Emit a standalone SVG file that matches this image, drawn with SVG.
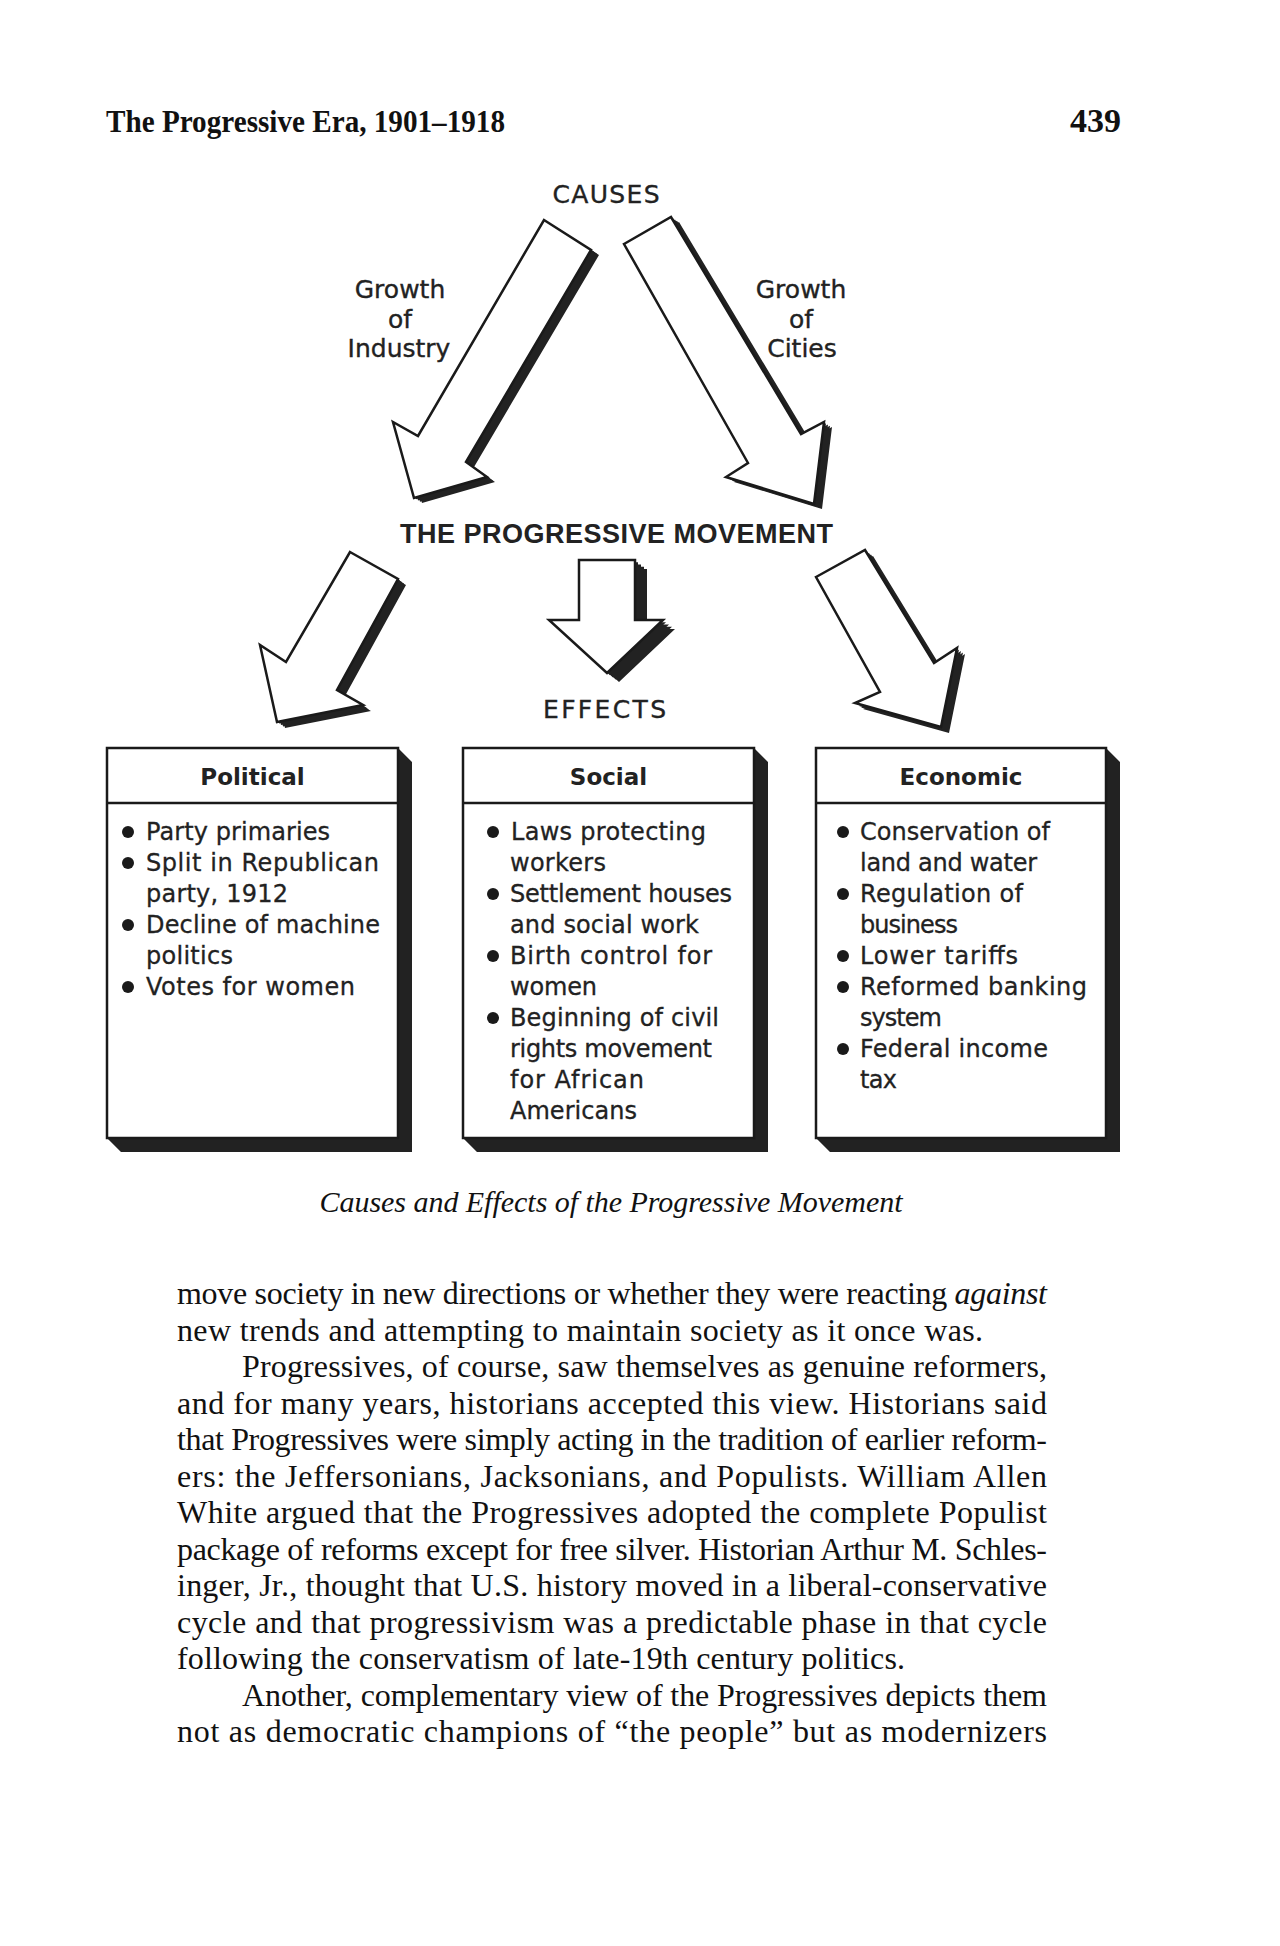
<svg xmlns="http://www.w3.org/2000/svg" width="1280" height="1946" viewBox="0 0 1280 1946">
<style>
.lbl{font-family:"DejaVu Sans","Liberation Sans",sans-serif;font-size:25px;fill:#222;stroke:#222;stroke-width:0.35;text-anchor:middle}
.item{font-family:"DejaVu Sans","Liberation Sans",sans-serif;font-size:24px;fill:#222;stroke:#222;stroke-width:0.3}
.hdr{font-family:"DejaVu Sans","Liberation Sans",sans-serif;font-size:23px;font-weight:bold;fill:#222;text-anchor:middle}
.title{font-family:"Liberation Sans",Arial,sans-serif;font-size:27px;font-weight:bold;fill:#222}
.body{font-family:"Liberation Serif","Times New Roman",serif;font-size:32px;fill:#111}
.face{fill:#fff;stroke:#1a1a1a;stroke-width:2.5;stroke-linejoin:miter}
.sh{fill:#222}
.box{fill:#fff;stroke:#1a1a1a;stroke-width:2.5}
.line{stroke:#1a1a1a;stroke-width:2.5}
.bul{fill:#1a1a1a}
</style>
<defs>
<polygon id="pA1" points="544,220 591,250 466,462 487,477 414,498 393,422 418,436"/>
<polygon id="pA2" points="624,244 671,217 801,434 824,422 814,504 726,477 748,463"/>
<polygon id="pA3" points="350,552 398,579 337,690 363,705 277,722 260,645 286,662"/>
<polygon id="pA4" points="579,560 635,560 635,620 663,620 607,673 549,620 579,620"/>
<polygon id="pA5" points="816,577 865,550 934,663 957,648 941,727 855,703 880,692"/>
</defs>
<rect x="0" y="0" width="1280" height="1946" fill="#fff"/>

<g id="page-header">
<text x="106" y="132" font-family="'Liberation Serif','Times New Roman',serif" font-size="32" font-weight="bold" fill="#111" textLength="399" lengthAdjust="spacingAndGlyphs">The Progressive Era, 1901–1918</text>
<text x="1121" y="132" font-family="'Liberation Serif','Times New Roman',serif" font-size="34" font-weight="bold" fill="#111" text-anchor="end">439</text>
</g>

<g id="connectors">
<g id="arrow-industry">
<use href="#pA1" class="sh" transform="translate(2,1.25)"/>
<use href="#pA1" class="sh" transform="translate(4,2.5)"/>
<use href="#pA1" class="sh" transform="translate(6,3.75)"/>
<use href="#pA1" class="sh" transform="translate(8,5)"/>
<use href="#pA1" class="face"/>
</g>
<g id="arrow-cities">
<use href="#pA2" class="sh" transform="translate(2,1.25)"/>
<use href="#pA2" class="sh" transform="translate(4,2.5)"/>
<use href="#pA2" class="sh" transform="translate(6,3.75)"/>
<use href="#pA2" class="sh" transform="translate(8,5)"/>
<use href="#pA2" class="face"/>
</g>
<g id="arrow-political">
<use href="#pA3" class="sh" transform="translate(2,1.5)"/>
<use href="#pA3" class="sh" transform="translate(4,3)"/>
<use href="#pA3" class="sh" transform="translate(6,4.5)"/>
<use href="#pA3" class="sh" transform="translate(8,6)"/>
<use href="#pA3" class="face"/>
</g>
<g id="arrow-social">
<use href="#pA4" class="sh" transform="translate(3,2.25)"/>
<use href="#pA4" class="sh" transform="translate(6,4.5)"/>
<use href="#pA4" class="sh" transform="translate(9,6.75)"/>
<use href="#pA4" class="sh" transform="translate(12,9)"/>
<use href="#pA4" class="face"/>
</g>
<g id="arrow-economic">
<use href="#pA5" class="sh" transform="translate(2,1.5)"/>
<use href="#pA5" class="sh" transform="translate(4,3)"/>
<use href="#pA5" class="sh" transform="translate(6,4.5)"/>
<use href="#pA5" class="sh" transform="translate(8,6)"/>
<use href="#pA5" class="face"/>
</g>
</g>

<g id="causes">
<text class="lbl" x="606" y="203" font-size="24" textLength="107">CAUSES</text>
</g>
<g id="growth-industry">
<text class="lbl" x="400" y="298">Growth</text>
<text class="lbl" x="400" y="328">of</text>
<text class="lbl" x="399" y="357">Industry</text>
</g>
<g id="growth-cities">
<text class="lbl" x="801" y="298">Growth</text>
<text class="lbl" x="801" y="328">of</text>
<text class="lbl" x="802" y="357">Cities</text>
</g>
<g id="progressive-movement">
<text class="title" x="400" y="543" textLength="433">THE PROGRESSIVE MOVEMENT</text>
</g>
<g id="effects">
<text class="lbl" x="543" y="718" style="text-anchor:start" textLength="123">EFFECTS</text>
</g>

<g id="box-political">
<polygon class="sh" points="398,748 412,762 412,1152 121,1152 107,1138 398,1138"/>
<rect class="box" x="107" y="748" width="291" height="390"/>
<line class="line" x1="107" y1="803" x2="398" y2="803"/>
<text class="hdr" x="252.5" y="785">Political</text>
<circle class="bul" cx="128" cy="832" r="6"/>
<circle class="bul" cx="128" cy="863" r="6"/>
<circle class="bul" cx="128" cy="925" r="6"/>
<circle class="bul" cx="128" cy="987" r="6"/>
<text class="item" x="146" y="840" textLength="184">Party primaries</text>
<text class="item" x="146" y="871" textLength="233">Split in Republican</text>
<text class="item" x="146" y="902" textLength="142">party, 1912</text>
<text class="item" x="146" y="933" textLength="234">Decline of machine</text>
<text class="item" x="146" y="964" textLength="87">politics</text>
<text class="item" x="146" y="995" textLength="209">Votes for women</text>
</g>

<g id="box-social">
<polygon class="sh" points="754,748 768,762 768,1152 477,1152 463,1138 754,1138"/>
<rect class="box" x="463" y="748" width="291" height="390"/>
<line class="line" x1="463" y1="803" x2="754" y2="803"/>
<text class="hdr" x="608.5" y="785">Social</text>
<circle class="bul" cx="493" cy="832" r="6"/>
<circle class="bul" cx="493" cy="894" r="6"/>
<circle class="bul" cx="493" cy="956" r="6"/>
<circle class="bul" cx="493" cy="1018" r="6"/>
<text class="item" x="511" y="840" textLength="195">Laws protecting</text>
<text class="item" x="510" y="871" textLength="96">workers</text>
<text class="item" x="510" y="902" textLength="222">Settlement houses</text>
<text class="item" x="510" y="933" textLength="189">and social work</text>
<text class="item" x="510" y="964" textLength="202">Birth control for</text>
<text class="item" x="510" y="995" textLength="87">women</text>
<text class="item" x="510" y="1026" textLength="209">Beginning of civil</text>
<text class="item" x="510" y="1057" textLength="202">rights movement</text>
<text class="item" x="510" y="1088" textLength="134">for African</text>
<text class="item" x="510" y="1119" textLength="127">Americans</text>
</g>

<g id="box-economic">
<polygon class="sh" points="1106,748 1120,762 1120,1152 830,1152 816,1138 1106,1138"/>
<rect class="box" x="816" y="748" width="290" height="390"/>
<line class="line" x1="816" y1="803" x2="1106" y2="803"/>
<text class="hdr" x="961" y="785">Economic</text>
<circle class="bul" cx="843" cy="832" r="6"/>
<circle class="bul" cx="843" cy="894" r="6"/>
<circle class="bul" cx="843" cy="956" r="6"/>
<circle class="bul" cx="843" cy="987" r="6"/>
<circle class="bul" cx="843" cy="1049" r="6"/>
<text class="item" x="860" y="840" textLength="190">Conservation of</text>
<text class="item" x="860" y="871" textLength="177">land and water</text>
<text class="item" x="860" y="902" textLength="163">Regulation of</text>
<text class="item" x="860" y="933" textLength="98">business</text>
<text class="item" x="860" y="964" textLength="158">Lower tariffs</text>
<text class="item" x="860" y="995" textLength="227">Reformed banking</text>
<text class="item" x="860" y="1026" textLength="82">system</text>
<text class="item" x="860" y="1057" textLength="188">Federal income</text>
<text class="item" x="860" y="1088" textLength="37">tax</text>
</g>

<g id="caption">
<text x="611" y="1212" font-family="'Liberation Serif','Times New Roman',serif" font-size="30" font-style="italic" fill="#111" text-anchor="middle" textLength="583">Causes and Effects of the Progressive Movement</text>
</g>

<g id="body-text">
<text class="body" x="177" y="1304" textLength="870">move society in new directions or whether they were reacting <tspan font-style="italic">against</tspan></text>
<text class="body" x="177" y="1340.5" textLength="806">new trends and attempting to maintain society as it once was.</text>
<text class="body" x="242" y="1377" textLength="805">Progressives, of course, saw themselves as genuine reformers,</text>
<text class="body" x="177" y="1413.5" textLength="870">and for many years, historians accepted this view. Historians said</text>
<text class="body" x="177" y="1450" textLength="870">that Progressives were simply acting in the tradition of earlier reform-</text>
<text class="body" x="177" y="1486.5" textLength="870">ers: the Jeffersonians, Jacksonians, and Populists. William Allen</text>
<text class="body" x="177" y="1523" textLength="870">White argued that the Progressives adopted the complete Populist</text>
<text class="body" x="177" y="1559.5" textLength="870">package of reforms except for free silver. Historian Arthur M. Schles-</text>
<text class="body" x="177" y="1596" textLength="870">inger, Jr., thought that U.S. history moved in a liberal-conservative</text>
<text class="body" x="177" y="1632.5" textLength="870">cycle and that progressivism was a predictable phase in that cycle</text>
<text class="body" x="177" y="1669" textLength="728">following the conservatism of late-19th century politics.</text>
<text class="body" x="242" y="1705.5" textLength="805">Another, complementary view of the Progressives depicts them</text>
<text class="body" x="177" y="1742" textLength="870">not as democratic champions of “the people” but as modernizers</text>
</g>
</svg>
